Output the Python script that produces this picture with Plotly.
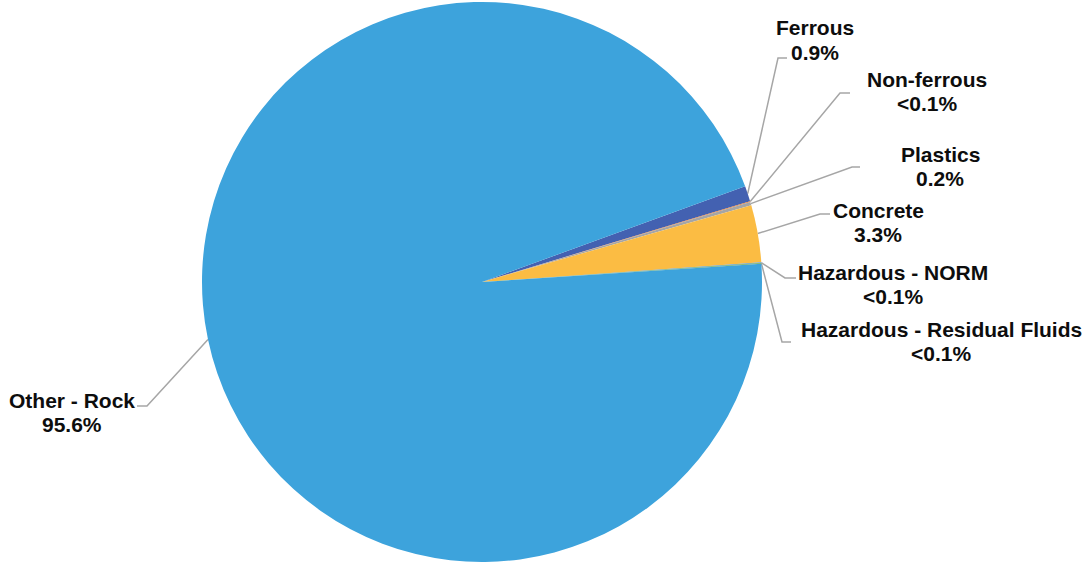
import math
import plotly.graph_objects as go

# Waste composition by material (percent of total)
categories = ["Ferrous", "Non-ferrous", "Plastics", "Concrete",
              "Hazardous - NORM", "Hazardous - Residual Fluids", "Other - Rock"]
values = [0.9, 0.04, 0.2, 3.3, 0.04, 0.04, 95.6]
value_labels = ["0.9%", "<0.1%", "0.2%", "3.3%", "<0.1%", "<0.1%", "95.6%"]
colors = ["#4361B1", "#ED7D31", "#A5A5A5", "#FBBC43", "#5B9BD5", "#70AD47", "#3DA3DC"]

W, H = 1092, 564
CX, CY, R = 482, 282, 280
ROTATION = 70  # degrees clockwise from 12 o'clock where the first slice starts

# Label centres: x, y of the name line (value line sits LINE_GAP below)
label_pos = [(815, 27), (927, 78), (940, 153), (878, 209), (893, 271), (941, 328), (72, 399)]
LINE_GAP = 24.5
elbows = [((778, 58), (787, 58)),
          ((840, 93), (850, 93)),
          ((852, 167), (860, 167)),
          ((820, 214), (830, 214)),
          ((785, 278), (796, 278)),
          ((782, 342), (791, 342)),
          ((147, 406), (137, 406))]

fig = go.Figure()

fig.add_trace(go.Pie(
    labels=categories, values=values, sort=False, direction="clockwise",
    rotation=ROTATION, marker=dict(colors=colors, line=dict(width=0)),
    textinfo="none", hoverinfo="label+percent", showlegend=False,
    domain=dict(x=[(CX - R) / W, (CX + R) / W], y=[(H - CY - R) / H, (H - CY + R) / H]),
))

# Leader lines from each slice's mid-angle on the rim to its label
total = sum(values)
cum = 0.0
for v, (e1, e2) in zip(values, elbows):
    mid = ROTATION + (cum + v / 2) / total * 360
    cum += v
    a = math.radians(mid)
    px, py = CX + R * math.sin(a), CY - R * math.cos(a)
    fig.add_trace(go.Scatter(
        x=[px, e1[0], e2[0]], y=[py, e1[1], e2[1]], mode="lines",
        line=dict(color="#A6A6A6", width=1.5), hoverinfo="skip", showlegend=False,
        xaxis="x", yaxis="y",
    ))

label_font = dict(family="Liberation Sans, Arial, sans-serif", size=21, color="#0D0D0D")
for name, txt, (lx, ly) in zip(categories, value_labels, label_pos):
    for line, yy in ((name, ly), (txt, ly + LINE_GAP)):
        fig.add_annotation(
            x=lx / W, y=1 - (yy + 1) / H, xref="paper", yref="paper",
            text=f"<b>{line}</b>", showarrow=False,
            xanchor="center", yanchor="middle", align="center",
            font=label_font,
        )

fig.update_layout(
    width=W, height=H, margin=dict(l=0, r=0, t=0, b=0),
    paper_bgcolor="white", plot_bgcolor="rgba(0,0,0,0)",
    xaxis=dict(range=[0, W], visible=False, domain=[0, 1], fixedrange=True),
    yaxis=dict(range=[H, 0], visible=False, domain=[0, 1], fixedrange=True),
)

fig.write_html("out.html")
